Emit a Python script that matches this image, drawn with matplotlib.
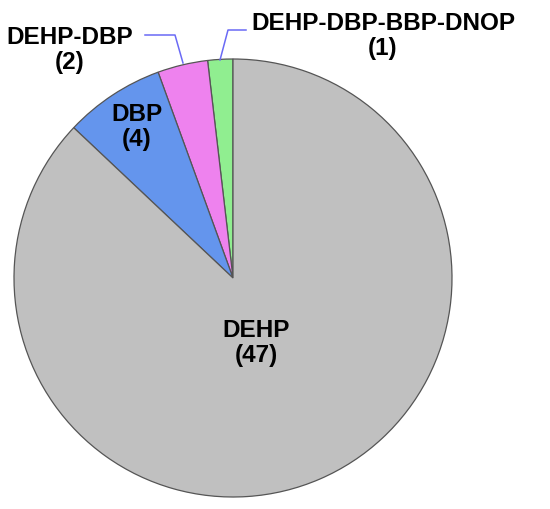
import numpy as np
import matplotlib
matplotlib.use("Agg")
import matplotlib.pyplot as plt

labels = ["DEHP-DBP-BBP-DNOP", "DEHP-DBP", "DBP", "DEHP"]
counts = [1, 2, 4, 47]
colors = ["#90EE90", "#EE82EE", "#6495ED", "#C0C0C0"]

W, H = 550, 509
cx, cy, R = 233, 278, 219

fig = plt.figure(figsize=(W / 100, H / 100), dpi=100)
ax = fig.add_axes([0, 0, 1, 1])
ax.pie(counts, colors=colors, startangle=90, counterclock=True,
       radius=1.0, wedgeprops=dict(edgecolor="#555555", linewidth=0.9))
ax.set_xlim(-cx / R, (W - cx) / R)
ax.set_ylim(-(H - cy) / R, cy / R)
ax.set_aspect("equal")
ax.axis("off")


def d(px, py):
    return ((px - cx) / R, (cy - py) / R)


font = dict(family="Liberation Sans", weight="bold", size=17.5,
            ha="center", va="center", linespacing=1.1, color="black")

texts = {
    "DEHP": d(256, 343),
    "DBP": d(137, 127),
    "DEHP-DBP": d(70, 50),
    "DEHP-DBP-BBP-DNOP": d(383, 36),
}
for lab, n in zip(labels, counts):
    x, y = texts[lab]
    ax.text(x, y, f"{lab}\n({n})", **font)

# leader lines
lc = "#6a6af5"
for pts in ([(145, 35), (175, 35), (183, 63)],
            [(246, 30), (228, 30), (220, 60)]):
    xs, ys = zip(*[d(*p) for p in pts])
    ax.plot(xs, ys, color=lc, lw=1.1, clip_on=False)

fig.savefig("out.png", dpi=100)
